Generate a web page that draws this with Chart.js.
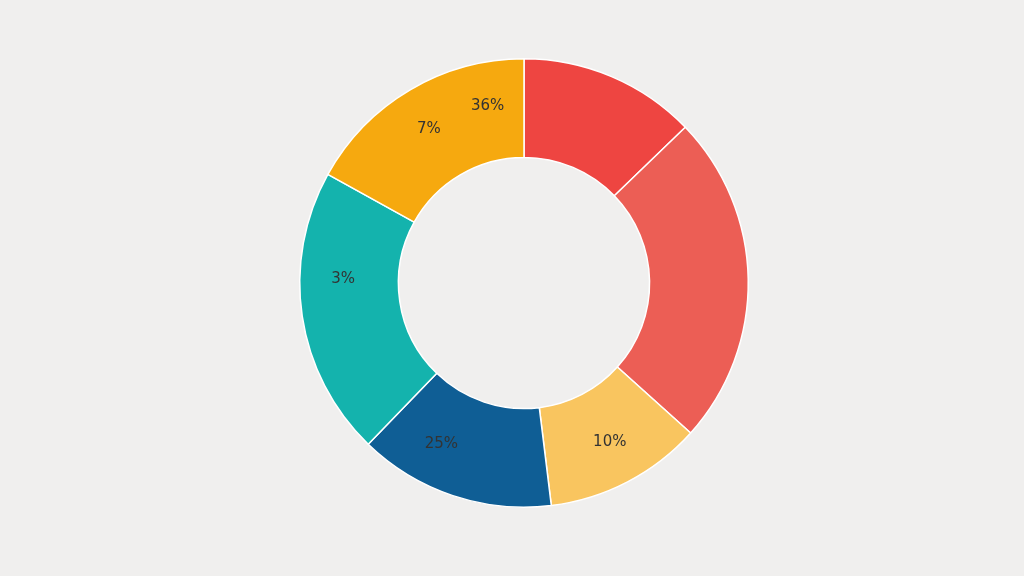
<!DOCTYPE html>
<html>
<head>
<meta charset="utf-8">
<script src="https://cdn.jsdelivr.net/npm/chart.js@4/dist/chart.umd.min.js"></script>
<style>
  html, body { margin: 0; padding: 0; background: #f0efee; }
  #wrap { width: 1024px; height: 576px; }
</style>
</head>
<body>
<div id="wrap"><canvas id="donut"></canvas></div>
<script>
// segments clockwise from 12 o'clock (values read as share of the ring)
const segments = ["Red", "Coral", "Light yellow", "Blue", "Teal", "Orange"];
const values = [46, 86, 41, 51, 75, 61];
const colors = ["#ee4541", "#ec5e55", "#f9c55f", "#0f5e95", "#14b3ad", "#f6a90f"];
// printed labels: segment index, text, position along the segment (0..1)
const labelSegment = [5, 5, 4, 3, 2];
const labelText = ["36%", "7%", "3%", "25%", "10%"];
const labelAlong = [0.81, 0.48, 0.63, 0.67, 0.48];

const ringLabels = {
    id: 'ringLabels',
    afterDatasetsDraw(chart) {
        const ctx = chart.ctx;
        const arcs = chart.getDatasetMeta(0).data;
        ctx.save();
        ctx.font = '15px "DejaVu Sans"';
        ctx.fillStyle = '#333';
        ctx.textAlign = 'center';
        ctx.textBaseline = 'middle';
        labelText.forEach((txt, i) => {
            const a = arcs[labelSegment[i]];
            const ang = a.startAngle + (a.endAngle - a.startAngle) * labelAlong[i];
            const r = a.innerRadius + (a.outerRadius - a.innerRadius) * 0.56;
            ctx.fillText(txt, a.x + Math.cos(ang) * r, a.y + Math.sin(ang) * r);
        });
        ctx.restore();
    }
};

function initChart() {
    const ctx = document.getElementById('donut').getContext('2d');
    new Chart(ctx, {
        type: 'doughnut',
        data: {
            labels: segments,
            datasets: [{
                data: values,
                backgroundColor: colors,
                borderColor: '#ffffff',
                borderWidth: 1.5
            }]
        },
        options: {
            responsive: true,
            maintainAspectRatio: false,
            animation: false,
            cutout: '56%',
            layout: { padding: { top: 58, bottom: 68, left: 24 } },
            plugins: {
                legend: { display: false },
                tooltip: { enabled: false }
            }
        },
        plugins: [ringLabels]
    });
}

initChart();
</script>
</body>
</html>
